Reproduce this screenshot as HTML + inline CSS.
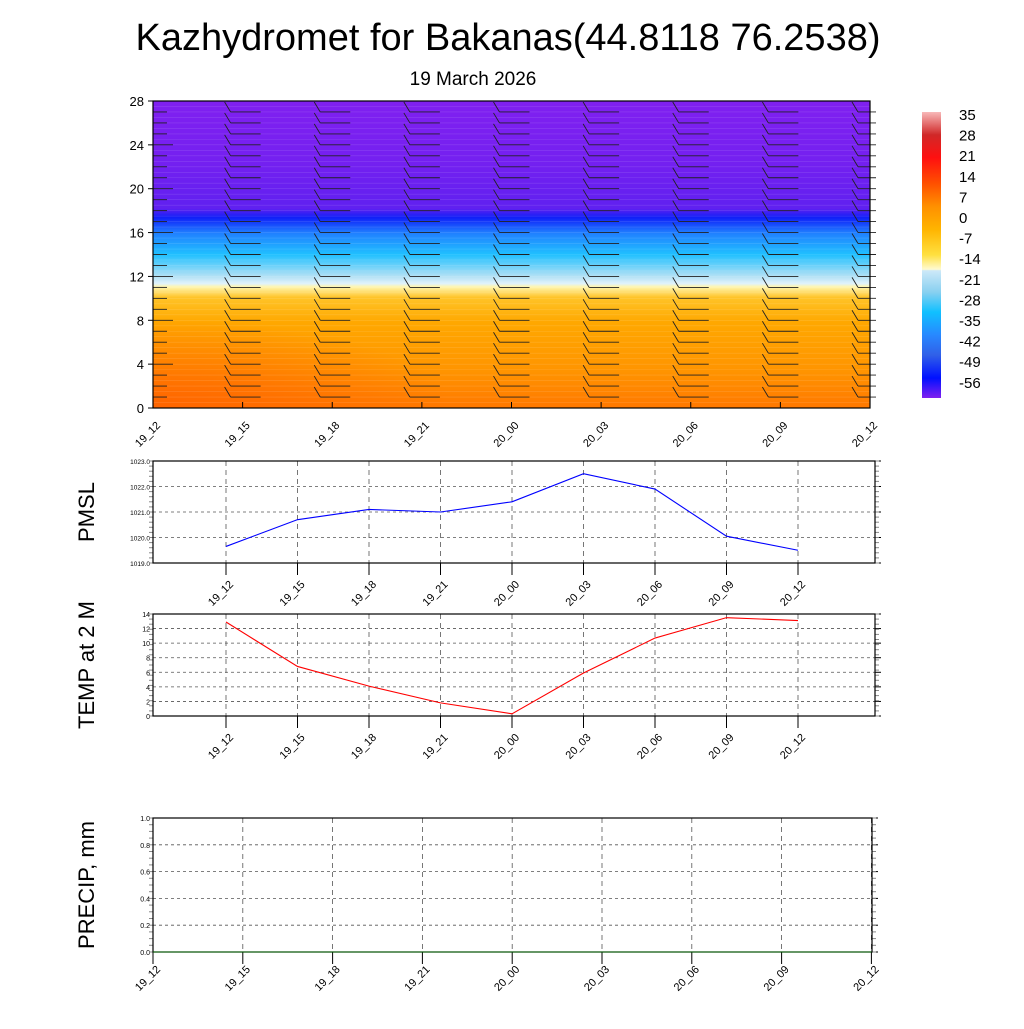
<!DOCTYPE html>
<html><head><meta charset="utf-8"><style>
body{margin:0;background:#fff;font-family:"Liberation Sans",sans-serif}
svg text{font-family:"Liberation Sans",sans-serif}
</style></head><body>
<svg id="s" width="1024" height="1024" viewBox="0 0 1024 1024" xmlns="http://www.w3.org/2000/svg">
<defs>
<linearGradient id="tg" x1="0" y1="1" x2="0" y2="0">
<stop offset="0" stop-color="#ff7800"/><stop offset="0.12" stop-color="#ff9400"/><stop offset="0.28" stop-color="#ffa800"/><stop offset="0.36" stop-color="#ffc428"/><stop offset="0.395" stop-color="#fff6b0"/><stop offset="0.405" stop-color="#e0f2fb"/><stop offset="0.43" stop-color="#b0e0f5"/><stop offset="0.5" stop-color="#20c0ff"/><stop offset="0.57" stop-color="#2080ff"/><stop offset="0.62" stop-color="#1020f8"/><stop offset="0.65" stop-color="#6020f0"/><stop offset="0.8" stop-color="#7420f0"/><stop offset="1" stop-color="#8020f0"/>
</linearGradient>
<radialGradient id="hot" cx="0" cy="1" r="1"><stop offset="0" stop-color="#ff6000" stop-opacity="0.8"/><stop offset="1" stop-color="#ff6000" stop-opacity="0"/></radialGradient>
<linearGradient id="cb" x1="0" y1="0" x2="0" y2="1">
<stop offset="0" stop-color="#f8b8b8"/><stop offset="0.08" stop-color="#d02828"/><stop offset="0.16" stop-color="#ff1010"/><stop offset="0.25" stop-color="#ff5000"/><stop offset="0.33" stop-color="#ff9000"/><stop offset="0.41" stop-color="#ffb400"/><stop offset="0.5" stop-color="#ffe040"/><stop offset="0.55" stop-color="#fffad0"/><stop offset="0.555" stop-color="#cce8f8"/><stop offset="0.63" stop-color="#88d0f0"/><stop offset="0.7" stop-color="#10c0ff"/><stop offset="0.78" stop-color="#2888ff"/><stop offset="0.85" stop-color="#3060e8"/><stop offset="0.93" stop-color="#0010ff"/><stop offset="1" stop-color="#8020f0"/>
</linearGradient>
</defs>
<text x="508" y="50" font-size="38" text-anchor="middle">Kazhydromet for Bakanas(44.8118 76.2538)</text>
<text x="473" y="85" font-size="19" text-anchor="middle">19 March 2026</text>
<g id="topp"></g>
<g id="cbar"></g>
<g id="p1"></g>
<g id="p2"></g>
<g id="p3"></g>
</svg>
<script>
const times=["19_12","19_15","19_18","19_21","20_00","20_03","20_06","20_09","20_12"];
const pmsl=[1019.65,1020.7,1021.1,1021.0,1021.4,1022.5,1021.9,1020.05,1019.5];
const temp2m=[12.9,6.8,4.1,1.8,0.3,5.9,10.7,13.5,13.1];
const precip=[0,0,0,0,0,0,0,0,0];
const pmslTicks=["1019.0","1020.0","1021.0","1022.0","1023.0"];
const tempTicks=[0,2,4,6,8,10,12,14];
const precipTicks=["0.0","0.2","0.4","0.6","0.8","1.0"];
const heightTicks=[0,4,8,12,16,20,24,28];
const cbLabels=[35,28,21,14,7,0,-7,-14,-21,-28,-35,-42,-49,-56];
const barbLevels=[1,2,3,4,5,6,7,8,9,10,11,12,13,14,15,16,17,18,19,20,21,22,23,24,25,26,27];
const NS="http://www.w3.org/2000/svg";
function el(t,a,p,txt){const e=document.createElementNS(NS,t);for(const k in a)e.setAttribute(k,a[k]);if(txt!==undefined)e.textContent=txt;p.appendChild(e);return e;}
function xlabels(p,xs,y){times.forEach((t,i)=>{const x=xs(i)+8;const e=el("text",{x:x,y:y,"font-size":11,"text-anchor":"end",transform:`rotate(-45 ${x} ${y})`},p,t);

});}
const topG=document.getElementById("topp");
const TX0=153,TX1=870,TY0=101,TY1=408;
const tx=i=>TX0+(TX1-TX0)*i/8, ty=h=>TY1-(TY1-TY0)*h/28;
el("rect",{x:TX0,y:TY0,width:TX1-TX0,height:TY1-TY0,fill:"url(#tg)"},topG);
el("rect",{x:TX0,y:TY1-90,width:300,height:90,fill:"url(#hot)"},topG);
for(let h=0.5;h<28;h+=0.5){el("line",{x1:TX0,x2:TX1,y1:ty(h),y2:ty(h),stroke:"#fff","stroke-opacity":0.15,"stroke-width":0.6},topG);}
times.forEach((t,i)=>{const x=tx(i)+(i==0?0:-12);barbLevels.forEach(h=>{const y=ty(h);const g=el("g",{stroke:"#222","stroke-width":0.9,fill:"none"},topG);


if(i==0){el("line",{x1:x,y1:y,x2:x+(h%4==0?20:14),y2:y},g);}else{el("line",{x1:x,y1:y,x2:x+(i==8?18:30),y2:y},g);el("line",{x1:x,y1:y,x2:x-6,y2:y-10},g);}});});
el("rect",{x:TX0,y:TY0,width:TX1-TX0,height:TY1-TY0,fill:"none",stroke:"#000","stroke-width":1.2},topG);
heightTicks.forEach(h=>{el("line",{x1:TX0-5,x2:TX0,y1:ty(h),y2:ty(h),stroke:"#000"},topG);const e=el("text",{x:TX0-9,y:ty(h)+5,"font-size":13,"text-anchor":"end"},topG,String(h));

});
times.forEach((t,i)=>el("line",{x1:tx(i),x2:tx(i),y1:TY1,y2:TY1-6,stroke:"#000"},topG));
xlabels(topG,tx,TY1+18);
const cb=document.getElementById("cbar");
el("rect",{x:922,y:112,width:19,height:286,fill:"url(#cb)"},cb);
cbLabels.forEach((v,i)=>{const e=el("text",{x:959,y:120+i*20.6,"font-size":15},cb,String(v));

});
function panel(g,X0,X1,Y0,Y1,xs,vmin,vmax,ticks,data,color,ylab,fs,labY,lblY){
const ys=v=>Y1-(Y1-Y0)*(v-vmin)/(vmax-vmin);
ticks.forEach(t=>{const v=parseFloat(t);el("line",{x1:X0,x2:X1,y1:ys(v),y2:ys(v),stroke:"#555","stroke-dasharray":"3,3","stroke-width":0.8},g);
const e=el("text",{x:X0-3,y:ys(v)+3,"font-size":fs,"text-anchor":"end"},g,String(t));


el("line",{x1:X1,x2:X1+6,y1:ys(v),y2:ys(v),stroke:"#000"},g);});
for(let k=0;k<=20;k++){const y=Y0+(Y1-Y0)*k/20;el("line",{x1:X0-4,x2:X0,y1:y,y2:y,stroke:"#888"},g);el("line",{x1:X1,x2:X1+4,y1:y,y2:y,stroke:"#888"},g);}
times.forEach((t,i)=>{el("line",{x1:xs(i),x2:xs(i),y1:Y0,y2:Y1,stroke:"#555","stroke-dasharray":"5,4","stroke-width":0.8},g);el("line",{x1:xs(i),x2:xs(i),y1:Y1,y2:Y1+12,stroke:"#000"},g);});
el("rect",{x:X0,y:Y0,width:X1-X0,height:Y1-Y0,fill:"none",stroke:"#000","stroke-width":1.2},g);
const pl=el("polyline",{points:data.map((v,i)=>xs(i)+","+ys(v)).join(" "),fill:"none",stroke:color,"stroke-width":1.1},g);


xlabels(g,xs,Y1+lblY);
const yl=el("text",{x:0,y:0,"font-size":22,"text-anchor":"middle",transform:`translate(94 ${labY}) rotate(-90)`},g,ylab);

}
const xs12=i=>226+71.5*i;
panel(document.getElementById("p1"),153,875,461,563,xs12,1019,1023,pmslTicks,pmsl,"#0000ff","PMSL",6.5,512,22);
panel(document.getElementById("p2"),153,875,614,716,xs12,0,14,tempTicks.map(String),temp2m,"#ff0000","TEMP at 2 M",7,665,22);
const xs3=i=>153+89.8*i;
panel(document.getElementById("p3"),153,872,818,952,xs3,0,1,precipTicks,precip,"#006000","PRECIP, mm",7,885,18);
</script>
</body></html>
